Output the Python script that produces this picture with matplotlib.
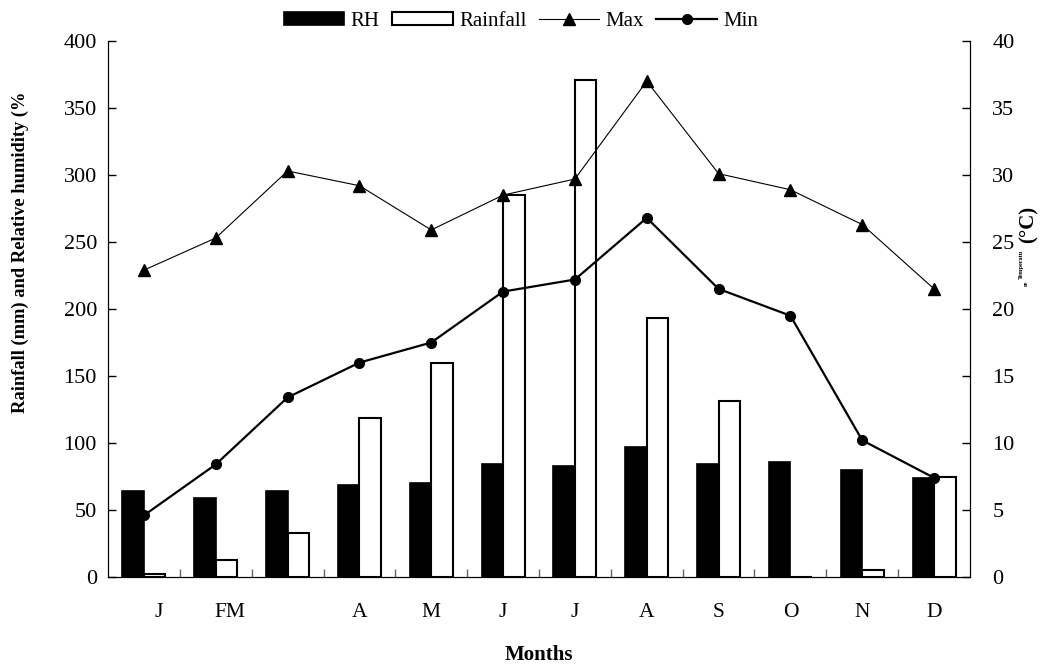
import matplotlib
matplotlib.use("Agg")
import matplotlib.pyplot as plt
import numpy as np
from matplotlib.ticker import FixedLocator

plt.rcParams['font.family'] = ['Liberation Serif', 'DejaVu Serif']

months = ['J', 'FM', '', 'A', 'M', 'J', 'J', 'A', 'S', 'O', 'N', 'D']
rh = [64, 59, 64, 69, 70, 84, 83, 97, 84, 86, 80, 74]
rainfall = [2, 13, 33, 119, 160, 285, 371, 193, 131, 0, 5, 75]
tmax = [22.9, 25.3, 30.3, 29.2, 25.9, 28.5, 29.7, 37.0, 30.1, 28.9, 26.3, 21.5]
tmin = [4.6, 8.4, 13.4, 16.0, 17.5, 21.3, 22.2, 26.8, 21.5, 19.5, 10.2, 7.4]
label_shift = [0.2, 0.2, 0, 0, 0, 0, 0, 0, 0, 0, 0, 0]

fig = plt.figure(figsize=(10.44, 6.67), dpi=100)
ax = fig.add_axes([108/1044, 1-577/667, (970-108)/1044, (577-41)/667])
x = np.arange(len(months))
w = 0.3
ax.bar(x - w/2, rh, width=w, color='black', edgecolor='black', linewidth=1.2, label='RH')
ax.bar(x + w/2, rainfall, width=w, color='white', edgecolor='black', linewidth=1.5, label='Rainfall')
ax.set_xlim(-0.5, 11.5)
ax.set_ylim(0, 400)
ax.set_yticks(np.arange(0, 401, 50))
ax.set_xticks(x + np.array(label_shift))
ax.set_xticklabels(months)
ax.xaxis.set_minor_locator(FixedLocator(np.arange(0.5, 11, 1)))
ax.tick_params(axis='x', which='major', length=0, pad=19, labelsize=15.5)
ax.tick_params(axis='x', which='minor', direction='in', length=6, width=1, color='#666666')
ax.tick_params(axis='y', direction='in', length=6, width=1, labelsize=16, pad=8)
ax.spines['top'].set_visible(False)

ax2 = ax.twinx()
ax2.plot(x, tmax, color='black', linewidth=0.8, marker='^', markersize=8, label='Max')
ax2.plot(x, tmin, color='black', linewidth=1.6, marker='o', markersize=7, label='Min')
ax2.set_ylim(0, 40)
ax2.set_yticks(np.arange(0, 41, 5))
ax2.tick_params(axis='y', direction='in', length=6, width=1, labelsize=16, pad=16)
ax2.spines['top'].set_visible(False)

fig.text(20/1044, 1-252/667, 'Rainfall (mm) and Relative humidity (%', rotation=90,
         fontsize=13.3, fontweight='bold', ha='center', va='center')
fig.text(539/1044, 1-655/667, 'Months', fontsize=15, fontweight='bold', ha='center', va='center')
fig.text(1029/1044, 1-224/667, '(°C)', rotation=90, fontsize=15, fontweight='bold', ha='center', va='center')
fig.text(1021/1044, 1-264/667, 'Temperatu', rotation=90, fontsize=4.5, fontweight='bold', ha='center', va='center')
fig.text(1026/1044, 1-283/667, 're', rotation=90, fontsize=4.5, fontweight='bold', ha='center', va='center')

h1, l1 = ax.get_legend_handles_labels()
h2, l2 = ax2.get_legend_handles_labels()
fig.legend(h1 + h2, l1 + l2, loc='center', bbox_to_anchor=(521/1044, 1-21/667), ncol=4,
           frameon=False, fontsize=15, handlelength=2.9, handletextpad=0.3,
           columnspacing=0.6, handleheight=0.6)

fig.savefig('out.png', dpi=100)
